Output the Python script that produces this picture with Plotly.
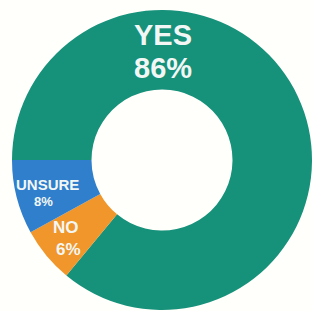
import plotly.graph_objects as go

labels = ["YES", "NO", "UNSURE"]
values = [86, 6, 8]
colors = ["#16917a", "#f0962a", "#2f7fcc"]

W, H = 312, 311

fig = go.Figure(go.Pie(
    labels=labels,
    values=values,
    marker=dict(colors=colors, line=dict(width=0)),
    hole=0.47,
    sort=False,
    direction="clockwise",
    rotation=270,
    textinfo="none",
    hoverinfo="label+percent",
    domain=dict(x=[12 / W, 1.0], y=[1 / H, 301 / H]),
    showlegend=False,
))

def px(x, y):
    return x / W, 1 - y / H

# label positions (pixels) and font sizes
label_pos = {"YES": [(163, 35, 29), (163, 68, 29)],
             "UNSURE": [(47, 184, 15), (43, 202, 13)],
             "NO": [(66, 227, 17), (68, 249, 17)]}

anns = []
for lab, val in zip(labels, values):
    lines = [lab, f"{val}%"]
    for (x, y, s), t in zip(label_pos[lab], lines):
        xp, yp = px(x, y)
        anns.append(dict(x=xp, y=yp, xref="paper", yref="paper", text=f"<b>{t}</b>",
                         showarrow=False, xanchor="center", yanchor="middle",
                         font=dict(family="Liberation Sans, Arial", size=s, color="#f2f7f5")))

fig.update_layout(
    width=W, height=H,
    margin=dict(l=0, r=0, t=0, b=0),
    paper_bgcolor="#fffffb",
    plot_bgcolor="#fffffb",
    annotations=anns,
)

fig.write_html("out.html", config={"displayModeBar": False},
               post_script="document.body.style.margin='0';")
